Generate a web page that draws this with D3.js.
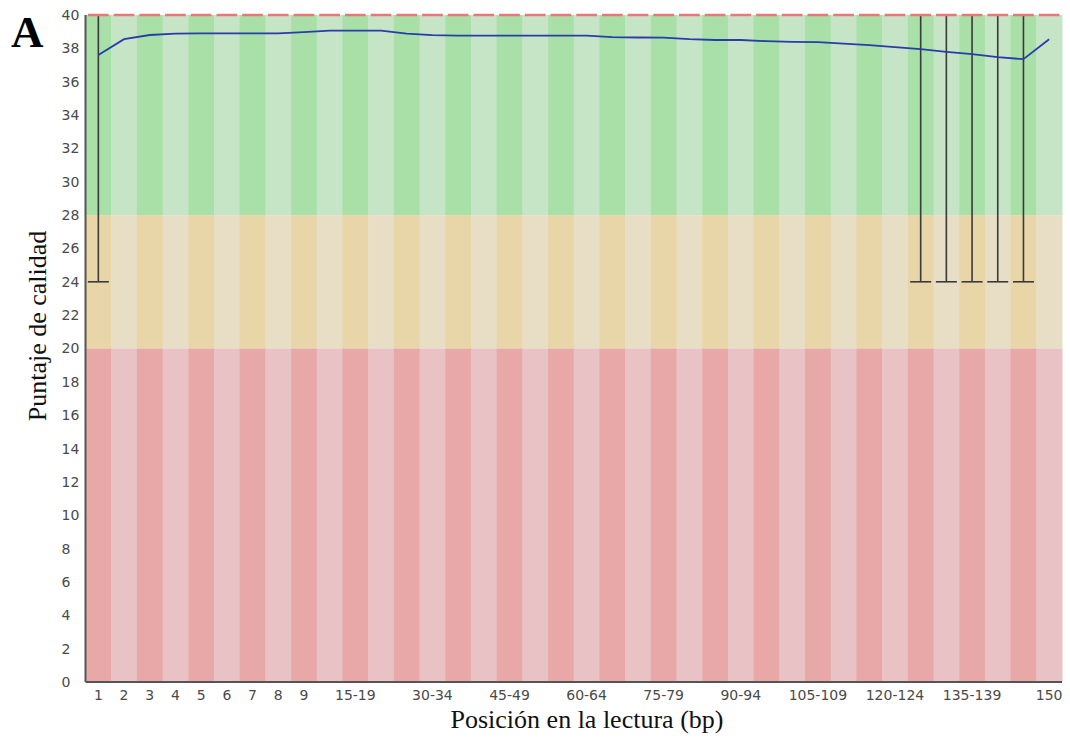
<!DOCTYPE html>
<html>
<head>
<meta charset="utf-8">
<script src="https://cdn.jsdelivr.net/npm/d3@7"></script>
<style>
  body { margin: 0; background: #fff; }
</style>
</head>
<body>
<svg id="canvas"></svg>
<script>
(function () {

    const width = 1070;
    const height = 740;
    const margin = { top: 15, right: 8, bottom: 58, left: 85.5 };

    const categories = ["1", "2", "3", "4", "5", "6", "7", "8", "9",
        "10-14", "15-19", "20-24", "25-29", "30-34", "35-39", "40-44", "45-49",
        "50-54", "55-59", "60-64", "65-69", "70-74", "75-79", "80-84", "85-89",
        "90-94", "95-99", "100-104", "105-109", "110-114", "115-119", "120-124",
        "125-129", "130-134", "135-139", "140-144", "145-149", "150"];

    const meanValues = [37.6, 38.55, 38.8, 38.88, 38.9, 38.9, 38.9, 38.9, 38.97,
        39.06, 39.06, 39.06, 38.88, 38.79, 38.76, 38.76, 38.76, 38.76, 38.76,
        38.76, 38.67, 38.65, 38.64, 38.55, 38.5, 38.5, 38.43, 38.39, 38.37,
        38.28, 38.19, 38.07, 37.95, 37.79, 37.65, 37.47, 37.35, 38.55];

    const medianValues = categories.map(() => 40);
    const lowerWhisker = [24, 40, 40, 40, 40, 40, 40, 40, 40, 40, 40, 40, 40,
        40, 40, 40, 40, 40, 40, 40, 40, 40, 40, 40, 40, 40, 40, 40, 40, 40, 40,
        40, 24, 24, 24, 24, 24, 40];
    const upperWhisker = categories.map(() => 40);

    const yTicks = d3.range(0, 41, 2);
    const xTickLabels = ["1", "2", "3", "4", "5", "6", "7", "8", "9", "15-19",
        "30-34", "45-49", "60-64", "75-79", "90-94", "105-109", "120-124",
        "135-139", "150"];

    // quality bands: dark / light stripe colours
    const bands = [
        { from: 28, to: 40, dark: "rgb(168,224,168)", light: "rgb(198,228,198)" },
        { from: 20, to: 28, dark: "rgb(232,214,168)", light: "rgb(232,222,198)" },
        { from: 0, to: 20, dark: "rgb(232,168,168)", light: "rgb(232,194,196)" }
    ];

    const svg = d3.select("#canvas")
        .attr("width", width)
        .attr("height", height);

    const x = d3.scaleBand()
        .domain(categories)
        .range([margin.left, width - margin.right])
        .padding(0);

    const y = d3.scaleLinear()
        .domain([0, 40])
        .range([height - margin.bottom, margin.top]);

    // background stripes
    bands.forEach(b => {
        svg.append("g").selectAll("rect")
            .data(categories)
            .enter()
            .append("rect")
            .attr("x", d => x(d))
            .attr("y", y(b.to))
            .attr("width", x.bandwidth() + 0.5)
            .attr("height", y(b.from) - y(b.to))
            .attr("fill", (d, i) => i % 2 === 0 ? b.dark : b.light);
    });

    // whiskers
    const whiskers = svg.append("g")
        .attr("stroke", "#3a3a3a")
        .attr("stroke-width", 1.6);

    categories.forEach((c, i) => {
        if (lowerWhisker[i] >= upperWhisker[i]) return;
        const cx = x(c) + x.bandwidth() / 2;
        whiskers.append("line")
            .attr("x1", cx).attr("x2", cx)
            .attr("y1", y(lowerWhisker[i])).attr("y2", y(upperWhisker[i]));
        whiskers.append("line")
            .attr("x1", cx - 10.5).attr("x2", cx + 10.5)
            .attr("y1", y(lowerWhisker[i])).attr("y2", y(lowerWhisker[i]));
    });

    // median segments
    svg.append("g").selectAll("line")
        .data(categories)
        .enter()
        .append("line")
        .attr("x1", d => x(d) + 2.5)
        .attr("x2", d => x(d) + x.bandwidth() - 2.5)
        .attr("y1", (d, i) => y(medianValues[i]))
        .attr("y2", (d, i) => y(medianValues[i]))
        .attr("stroke", "rgb(232,120,120)")
        .attr("stroke-width", 2.5);

    // mean line
    const line = d3.line()
        .x((d, i) => x(categories[i]) + x.bandwidth() / 2)
        .y(d => y(d));

    svg.append("path")
        .datum(meanValues)
        .attr("d", line)
        .attr("fill", "none")
        .attr("stroke", "rgb(40,60,170)")
        .attr("stroke-width", 1.8);

    // axes
    const yAxis = svg.append("g")
        .attr("transform", `translate(${margin.left},0)`)
        .call(d3.axisLeft(y).tickValues(yTicks).tickSize(0).tickFormat(d3.format("d")));
    yAxis.select(".domain").remove();
    yAxis.selectAll("text")
        .attr("x", -24)
        .attr("text-anchor", "start")
        .attr("font-family", "DejaVu Sans")
        .attr("font-size", 14)
        .attr("fill", "#4a4a4a");

    const xAxis = svg.append("g")
        .attr("transform", `translate(0,${height - margin.bottom})`)
        .call(d3.axisBottom(x).tickValues(xTickLabels).tickSize(0).tickPadding(8));
    xAxis.select(".domain").remove();
    xAxis.selectAll("text")
        .attr("font-family", "DejaVu Sans")
        .attr("font-size", 14)
        .attr("fill", "#4a4a4a");

    svg.append("line")
        .attr("x1", margin.left).attr("x2", margin.left)
        .attr("y1", margin.top).attr("y2", height - margin.bottom)
        .attr("stroke", "#555")
        .attr("stroke-width", 2);
    svg.append("line")
        .attr("x1", margin.left).attr("x2", width - margin.right)
        .attr("y1", height - margin.bottom).attr("y2", height - margin.bottom)
        .attr("stroke", "#555")
        .attr("stroke-width", 2);

    // titles
    svg.append("text")
        .attr("x", 587)
        .attr("y", 728)
        .attr("text-anchor", "middle")
        .attr("font-family", "Liberation Serif")
        .attr("font-size", 26)
        .attr("fill", "#111")
        .text("Posición en la lectura (bp)");

    svg.append("text")
        .attr("transform", "translate(46,326) rotate(-90)")
        .attr("text-anchor", "middle")
        .attr("font-family", "Liberation Serif")
        .attr("font-size", 26)
        .attr("fill", "#111")
        .text("Puntaje de calidad");

    svg.append("text")
        .attr("x", 11)
        .attr("y", 47)
        .attr("font-family", "Liberation Serif")
        .attr("font-weight", "bold")
        .attr("font-size", 45)
        .attr("fill", "#000")
        .text("A");

})();
</script>
</body>
</html>
